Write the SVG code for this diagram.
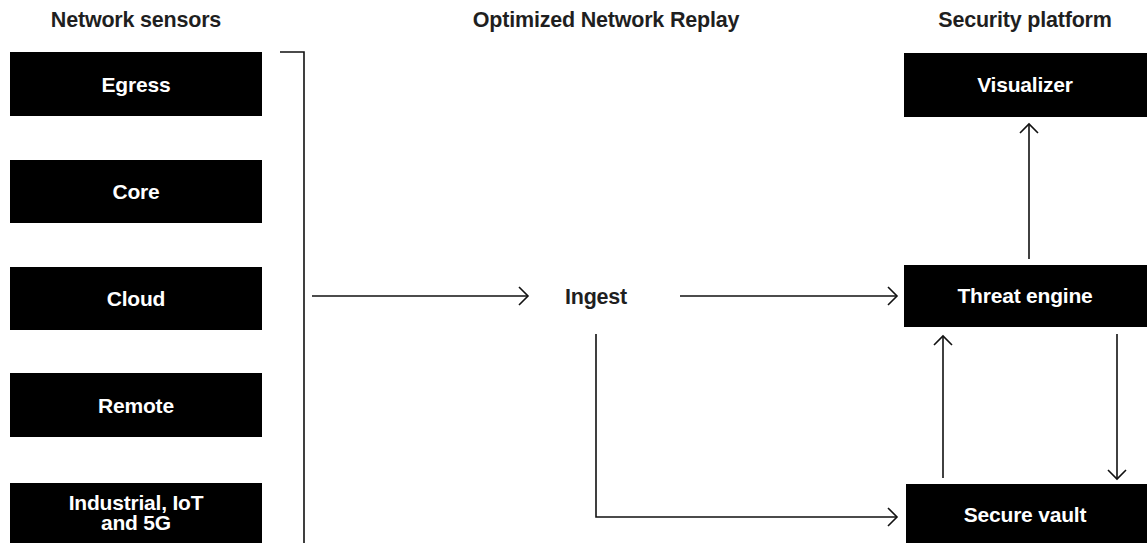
<svg xmlns="http://www.w3.org/2000/svg" width="1147" height="543" viewBox="0 0 1147 543">
<defs>
<style>
.hdr{font-family:"Liberation Sans",Arial,sans-serif;font-weight:bold;font-size:21.5px;fill:#1f1f1f;text-anchor:middle;letter-spacing:-0.2px}
.box{fill:#000}
.lbl{font-family:"Liberation Sans",Arial,sans-serif;font-weight:bold;font-size:21px;fill:#fff;text-anchor:middle;letter-spacing:-0.2px}
.ln{fill:none;stroke:#111;stroke-width:1.6}
</style>
<marker id="arr" markerUnits="userSpaceOnUse" markerWidth="20" markerHeight="24" refX="10" refY="10" orient="auto">
<path d="M1,1 L10,10 L1,19" fill="none" stroke="#111" stroke-width="1.6"/>
</marker>
</defs>
<rect width="1147" height="543" fill="#fff"/>
<g id="headers">
<text class="hdr" x="136" y="27">Network sensors</text>
<text class="hdr" x="606" y="27">Optimized Network Replay</text>
<text class="hdr" x="1025" y="27">Security platform</text>
</g>
<g id="egress"><rect class="box" x="10" y="52" width="252" height="64"/><text class="lbl" x="136" y="92">Egress</text></g>
<g id="core"><rect class="box" x="10" y="160" width="252" height="63"/><text class="lbl" x="136" y="199">Core</text></g>
<g id="cloud"><rect class="box" x="10" y="267" width="252" height="63"/><text class="lbl" x="136" y="306">Cloud</text></g>
<g id="remote"><rect class="box" x="10" y="373" width="252" height="64"/><text class="lbl" x="136" y="413">Remote</text></g>
<g id="industrial"><rect class="box" x="10" y="483" width="252" height="64"/><text class="lbl"><tspan x="136" y="510">Industrial, IoT</tspan><tspan x="136" y="530">and 5G</tspan></text></g>
<g id="ingest"><text class="hdr" x="596" y="304">Ingest</text></g>
<g id="visualizer"><rect class="box" x="904" y="53" width="243" height="64"/><text class="lbl" x="1025" y="92">Visualizer</text></g>
<g id="threat"><rect class="box" x="904" y="265" width="243" height="62"/><text class="lbl" x="1025" y="303">Threat engine</text></g>
<g id="vault"><rect class="box" x="906" y="484" width="241" height="62"/><text class="lbl" x="1025" y="522">Secure vault</text></g>
<g id="connectors">
<path class="ln" d="M280,52 H304 V543"/>
<path class="ln" d="M312,296 H528" marker-end="url(#arr)"/>
<path class="ln" d="M680,296 H897" marker-end="url(#arr)"/>
<path class="ln" d="M1029,259 V124" marker-end="url(#arr)"/>
<path class="ln" d="M943,478 V336" marker-end="url(#arr)"/>
<path class="ln" d="M1117,334 V479" marker-end="url(#arr)"/>
<path class="ln" d="M596,334 V517 H897" marker-end="url(#arr)"/>
</g>
</svg>
